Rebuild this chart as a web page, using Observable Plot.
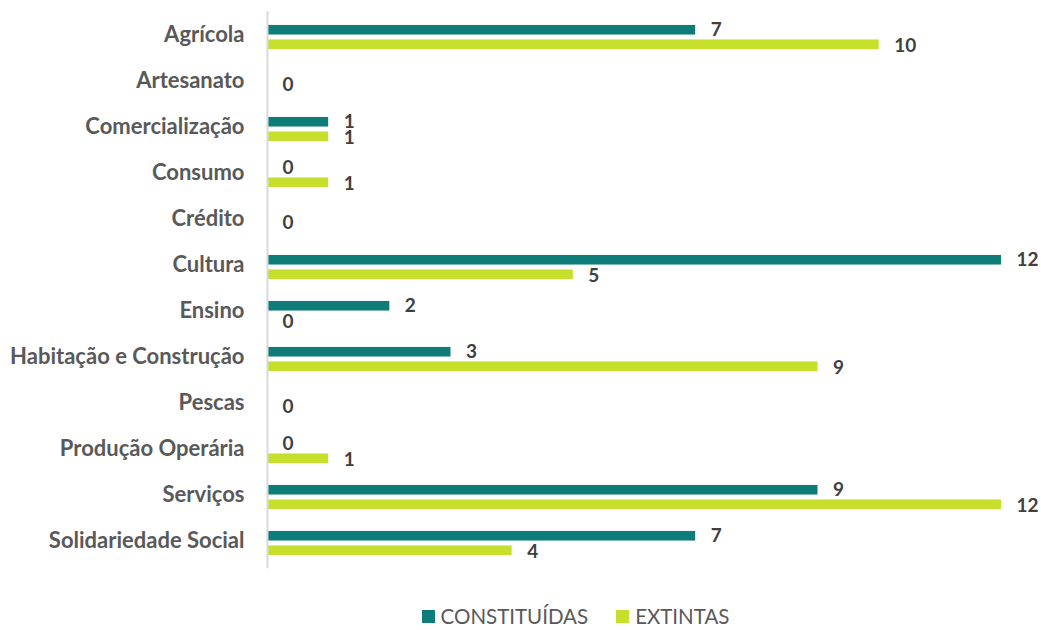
<!DOCTYPE html>
<html>
<head>
<meta charset="utf-8">
<script src="https://cdn.jsdelivr.net/npm/d3@7"></script>
<script src="https://cdn.jsdelivr.net/npm/@observablehq/plot@0.6"></script>
<style>
  body { margin: 0; background: #fff; font-family: Lato, "Open Sans", sans-serif; }
  #chart { width: 1041px; }
  .legend { display: flex; justify-content: center; gap: 28px; margin-top: 24px; padding-left: 110px; font-size: 20.5px; color: #595959; }
  .legend span { display: inline-flex; align-items: center; }
  .legend i { display: inline-block; width: 13px; height: 13px; margin-right: 6px; }
</style>
</head>
<body>
<div id="chart"></div>
<script>
const categories = ["Agrícola","Artesanato","Comercialização","Consumo","Crédito","Cultura","Ensino","Habitação e Construção","Pescas","Produção Operária","Serviços","Solidariedade Social"];
const constituidas = [7,0,1,0,0,12,2,3,0,0,9,7];
const extintas = [10,0,1,1,0,5,0,9,0,1,12,4];
const seriesNames = ["CONSTITUÍDAS","EXTINTAS"];
const colors = ["#0e7c78","#c5df2b"];

const rows = categories.map((c,i) => ({category: c, c: constituidas[i], e: extintas[i]}));
const bothZero = rows.filter(d => d.c === 0 && d.e === 0);
const someData = rows.filter(d => !(d.c === 0 && d.e === 0));

const plot = Plot.plot({
  width: 1041,
  height: 580,
  marginLeft: 267,
  marginRight: 40,
  marginTop: 11.3,
  marginBottom: 11.8,
  x: {domain: [0, 12], axis: null},
  y: {domain: categories, padding: 0, label: null},
  style: {fontFamily: "Lato, 'Open Sans', sans-serif"},
  marks: [
    Plot.axisY({tickSize: 0, tickPadding: 23, dy: -3, fontSize: 22, fontWeight: "bold", fill: "#595959", label: null}),
    Plot.barX(rows, {x: "c", y: "category", fill: colors[0], insetTop: 10.95, insetBottom: 25.45}),
    Plot.barX(rows, {x: "e", y: "category", fill: colors[1], insetTop: 25.45, insetBottom: 10.95}),
    Plot.ruleX([0], {stroke: "#d9d9d9", strokeWidth: 2}),
    Plot.text(someData, {x: "c", y: "category", text: d => String(d.c), dx: 15, dy: -7.5, textAnchor: "start", fontSize: 19, fontWeight: "bold", fill: "#404040"}),
    Plot.text(someData, {x: "e", y: "category", text: d => String(d.e), dx: 15, dy: 8, textAnchor: "start", fontSize: 19, fontWeight: "bold", fill: "#404040"}),
    Plot.text(bothZero, {x: "c", y: "category", text: d => String(d.c), dx: 15, dy: 1.5, textAnchor: "start", fontSize: 19, fontWeight: "bold", fill: "#404040"})
  ]
});
document.getElementById("chart").appendChild(plot);

const legend = document.createElement("div");
legend.className = "legend";
seriesNames.forEach((n,i) => {
  const s = document.createElement("span");
  const sw = document.createElement("i");
  sw.style.background = colors[i];
  s.appendChild(sw);
  s.appendChild(document.createTextNode(n));
  legend.appendChild(s);
});
document.getElementById("chart").appendChild(legend);
</script>
</body>
</html>
